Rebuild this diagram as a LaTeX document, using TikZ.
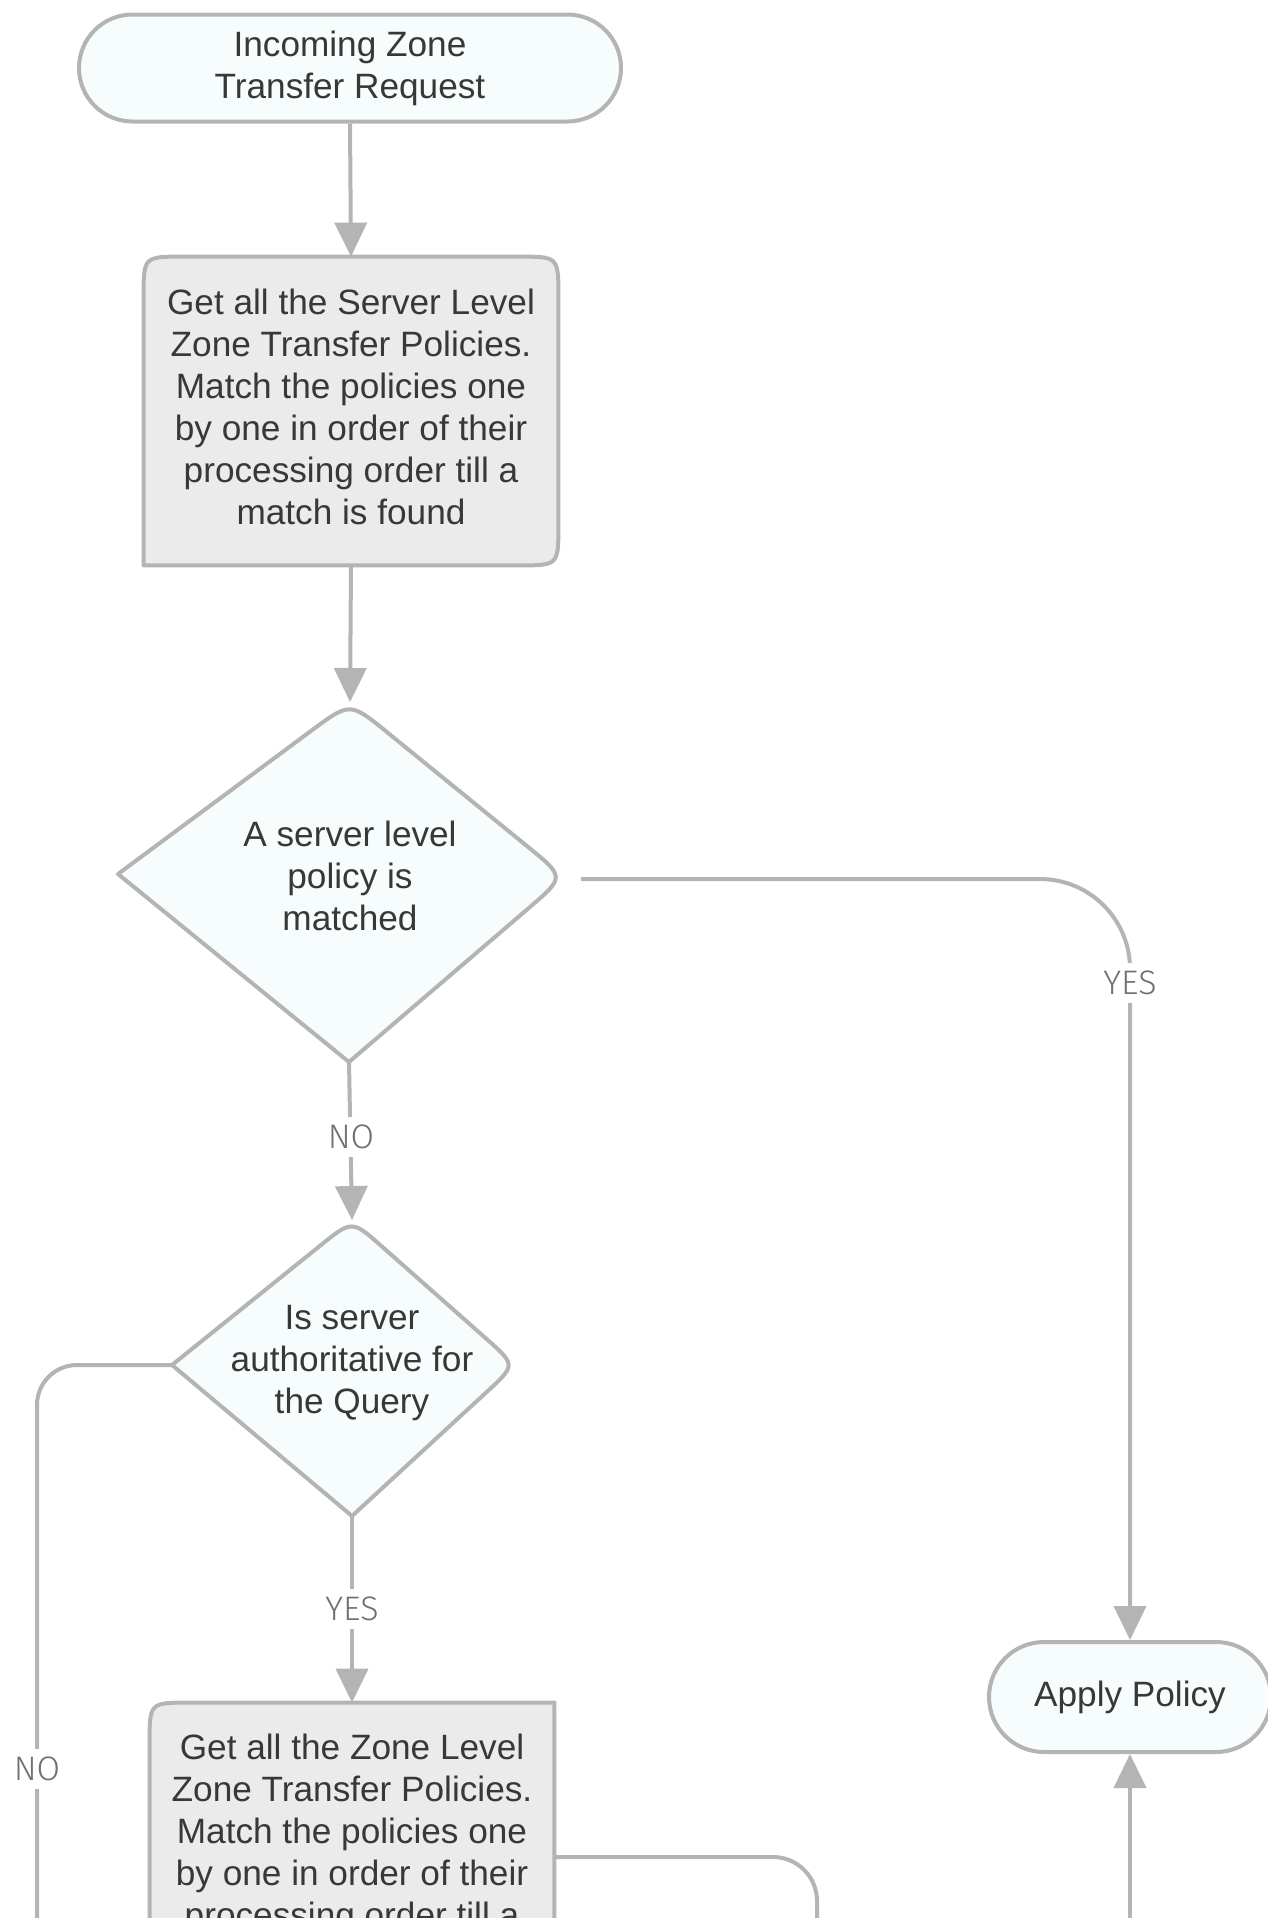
\documentclass[tikz,border=0pt]{standalone}
\usepackage{fontspec}
\setmainfont{Liberation Sans}
\newfontfamily\lblfont{Fira Sans Light}
\usetikzlibrary{arrows.meta,shapes.misc,calc,backgrounds}
\definecolor{linec}{RGB}{180,180,180}
\definecolor{bluefill}{RGB}{247,252,253}
\definecolor{grayfill}{RGB}{235,235,235}
\definecolor{txtc}{RGB}{56,56,56}
\definecolor{lblc}{RGB}{112,112,112}
\tikzset{
  txt/.style={text=txtc, font=\fontsize{17.6}{21}\selectfont, align=center, inner sep=0pt},
  term/.style={txt, rounded rectangle, draw=linec, fill=bluefill, line width=2pt},
  outl/.style={draw=linec, line width=2pt, line join=round},
  conn/.style={draw=linec, line width=2pt},
  arr/.style={conn, -{Triangle[width=16pt,length=17pt]}},
  lbl/.style={font=\lblfont\fontsize{17}{20}\selectfont, text=lblc, fill=white, inner sep=4pt},
}
\begin{document}
\begin{tikzpicture}[x=0.5pt,y=-0.5pt]
\useasboundingbox (0,0) rectangle (1268,1918);

% start terminal
\node[term, minimum width=271pt, minimum height=53.5pt] (start) at (350,68) {Incoming Zone\\Transfer Request};

% box 1
\node[txt, minimum width=207pt, minimum height=154pt] (b1) at (351,411)
  {\raisebox{2pt}[\height][\depth]{\parbox{200pt}{\centering Get all the Server Level\\Zone Transfer Policies.\\Match the policies one\\by one in order of their\\processing order till a\\match is found}}};

% diamond 1
\coordinate (d1t) at (350,702);
\coordinate (d1r) at (565,877);
\coordinate (d1b) at (349,1062);
\coordinate (d1l) at (118,874);
\path[outl, fill=bluefill] (d1l) -- ($(d1t)!24pt!(d1l)$) .. controls (d1t) .. ($(d1t)!24pt!(d1r)$)
  -- ($(d1r)!24pt!(d1t)$) .. controls (d1r) .. ($(d1r)!24pt!(d1b)$) -- (d1b) -- cycle;
\node[txt] (d1) at (350,876) {A server level\\policy is\\matched};

% diamond 2
\coordinate (d2t) at (352,1220);
\coordinate (d2r) at (516,1365);
\coordinate (d2b) at (352,1516);
\coordinate (d2l) at (172,1365);
\path[outl, fill=bluefill] (d2l) -- ($(d2t)!20pt!(d2l)$) .. controls (d2t) .. ($(d2t)!20pt!(d2r)$)
  -- ($(d2r)!20pt!(d2t)$) .. controls (d2r) .. ($(d2r)!20pt!(d2b)$) -- (d2b) -- cycle;
\node[txt] (d2) at (352,1363) {Is server\\authoritative for\\the Query};

% box 2
\node[txt, minimum width=202pt, minimum height=154pt] (b2) at (352,1857)
  {\raisebox{2.5pt}[\height][\depth]{\parbox{200pt}{\centering Get all the Zone Level\\Zone Transfer Policies.\\Match the policies one\\by one in order of their\\processing order till a\\match is found}}};

% apply policy
\node[term, minimum width=141pt, minimum height=55pt] (ap) at (1130,1697) {Apply Policy};

\begin{scope}[on background layer]
\fill[white] (0,0) rectangle (1268,1918);
\path[outl, fill=grayfill] (b1.south west) -- ($(b1.north west)+(0,40)$) .. controls (b1.north west) .. ($(b1.north west)+(40,0)$)
  -- ($(b1.north east)+(-40,0)$) .. controls (b1.north east) .. ($(b1.north east)+(0,40)$)
  -- ($(b1.south east)+(0,-40)$) .. controls (b1.south east) .. ($(b1.south east)+(-40,0)$) -- cycle;
\path[outl, fill=grayfill] (b2.south west) -- ($(b2.north west)+(0,40)$) .. controls (b2.north west) .. ($(b2.north west)+(40,0)$)
  -- (b2.north east) -- (b2.south east) -- cycle;
\end{scope}

% off-page ends
\coordinate (offL) at (37,1945);
\coordinate (offR) at (817,1945);
\coordinate (offA) at (1130,1945);

% connectors
\draw[arr] (start.south) -- (b1.north);
\draw[arr] (b1.south) -- (d1t);
\draw[arr, rounded corners=45pt] ($(d1r)+(16,2)$) -| (ap.north);
\node[lbl] (yes1) at (1130,983) {YES};
\draw[arr] (d1b) -- (d2t);
\node[lbl] (no1) at (351,1137) {NO};
\draw[conn, rounded corners=20pt] (d2l) -| (offL);
\node[lbl] (no2) at (37,1769) {NO};
\draw[arr] (d2b) -- (b2.north);
\node[lbl] (yes2) at (352,1609) {YES};
\draw[conn, rounded corners=22pt] (b2.east) -| (offR);
\draw[arr] (offA) -- (ap.south);
\end{tikzpicture}
\end{document}
